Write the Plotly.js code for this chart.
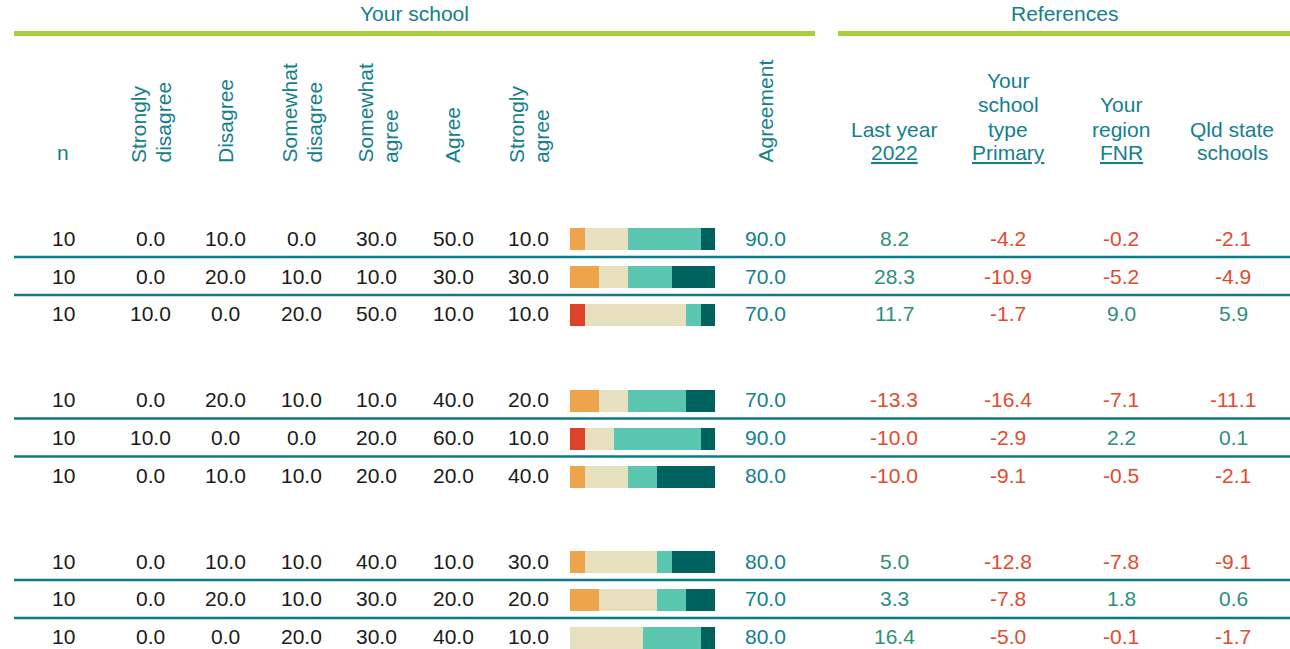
<!DOCTYPE html>
<html>
<head>
<meta charset="utf-8">
<script src="https://cdn.plot.ly/plotly-3.0.1.min.js"></script>
<style>
  html, body { margin: 0; padding: 0; background: #ffffff; }
  #chart { width: 1290px; height: 649px; }
</style>
</head>
<body>
<div id="chart"></div>
<script>
// ---------- DATA ----------
const nResp            = [10, 10, 10, 10, 10, 10, 10, 10, 10];
const stronglyDisagree = [0, 0, 10, 0, 10, 0, 0, 0, 0];
const disagree         = [10, 20, 0, 20, 0, 10, 10, 20, 0];
const somewhatDisagree = [0, 10, 20, 10, 0, 10, 10, 10, 20];
const somewhatAgree    = [30, 10, 50, 10, 20, 20, 40, 30, 30];
const agree            = [50, 30, 10, 40, 60, 20, 10, 20, 40];
const stronglyAgree    = [10, 30, 10, 20, 10, 40, 30, 20, 10];
const agreement        = [90, 70, 70, 70, 90, 80, 80, 70, 80];
const lastYear2022     = [8.2, 28.3, 11.7, -13.3, -10.0, -10.0, 5.0, 3.3, 16.4];
const schoolTypePrimary= [-4.2, -10.9, -1.7, -16.4, -2.9, -9.1, -12.8, -7.8, -5.0];
const regionFNR        = [-0.2, -5.2, 9.0, -7.1, 2.2, -0.5, -7.8, 1.8, -0.1];
const qldStateSchools  = [-2.1, -4.9, 5.9, -11.1, 0.1, -2.1, -9.1, 0.6, -1.7];
const groupOfRow       = [0, 0, 0, 1, 1, 1, 2, 2, 2];
const rowInGroup       = [0, 1, 2, 0, 1, 2, 0, 1, 2];

const segmentNames = ['Strongly disagree', 'Disagree', 'Somewhat disagree', 'Somewhat agree', 'Agree', 'Strongly agree'];
const columnHeaderLines = [['n'], ['Strongly', 'disagree'], ['Disagree'], ['Somewhat', 'disagree'], ['Somewhat', 'agree'], ['Agree'], ['Strongly', 'agree']];

// ---------- LAYOUT CONSTANTS ----------
const W = 1290, H = 649;
const FONT = 'Liberation Sans, Arial, sans-serif';
const FS = 21;
const TEAL = '#13808c';
const BLACK = '#1a1a1a';
const POS = '#2f8f78';
const NEG = '#e34a2d';
const GREEN = '#a9cd3c';
const RULE = '#0e7a88';
const segColors = ['#db4428', '#eea44b', '#e6e0bf', '#e6e0bf', '#5bc6b0', '#00625f'];

const GROUP_STEP = 4.26;
const ROW_PX = 37.9, ROW0_PX = 239.3;
const yRange = [(H - ROW0_PX) / ROW_PX, -ROW0_PX / ROW_PX];

const px = x => x / W;
const py = y => 1 - y / H;
const rowY = groupOfRow.map((g, i) => g * GROUP_STEP + rowInGroup[i]);

// ---------- TRACES ----------
const segData = [stronglyDisagree, disagree, somewhatDisagree, somewhatAgree, agree, stronglyAgree];
const traces = segData.map((vals, k) => ({
  type: 'bar',
  orientation: 'h',
  name: segmentNames[k],
  x: vals,
  y: rowY,
  width: 0.58,
  marker: { color: segColors[k], line: { width: 0 } },
  hoverinfo: 'skip',
  showlegend: false
}));

// ---------- ANNOTATIONS ----------
const ann = [];
function txt(x, y, text, color, opts) {
  ann.push(Object.assign({
    xref: 'paper', yref: 'y', x: x, y: y, text: text, showarrow: false,
    xanchor: 'center', yanchor: 'middle', yshift: 1.2,
    font: { family: FONT, size: FS, color: color }
  }, opts || {}));
}

// group titles
txt(px(414), py(15), 'Your school', TEAL, { yref: 'paper' });
txt(px(1064), py(15), 'References', TEAL, { yref: 'paper' });

// column headers
txt(px(63), py(161 - 7.3), 'n', TEAL, { yref: 'paper' });
const rotCenters = [null, [138, 163], [225], [289, 314], [365, 390], [452], [516, 541]];
for (let c = 1; c < columnHeaderLines.length; c++) {
  columnHeaderLines[c].forEach((line, j) => {
    txt(px(rotCenters[c][j]), py(165), line, TEAL, { yref: 'paper', textangle: -90, yanchor: 'bottom', yshift: 0 });
  });
}
txt(px(765), py(165), 'Agreement', TEAL, { yref: 'paper', textangle: -90, yanchor: 'bottom', yshift: 0 });

const refHeaders = [
  { x: 894, lines: [['Last year', 138], ['<u>2022</u>', 160.5]] },
  { x: 1008, lines: [['Your', 89], ['school', 113], ['type', 138], ['<u>Primary</u>', 161]] },
  { x: 1121, lines: [['Your', 113], ['region', 138], ['<u>FNR</u>', 161]] },
  { x: 1232, lines: [['Qld state', 138], ['schools', 161]] }
];
refHeaders.forEach(h => h.lines.forEach(([t, base]) => {
  txt(px(h.x), py(base - 7.3), t, TEAL, { yref: 'paper' });
}));

// row values
const valueCols = [
  [63, nResp, v => String(v)],
  [150, stronglyDisagree, v => v.toFixed(1)],
  [225, disagree, v => v.toFixed(1)],
  [301, somewhatDisagree, v => v.toFixed(1)],
  [377, somewhatAgree, v => v.toFixed(1)],
  [453, agree, v => v.toFixed(1)],
  [528, stronglyAgree, v => v.toFixed(1)]
];
rowY.forEach((y, i) => {
  valueCols.forEach(([x, arr, f]) => txt(px(x), y, f(arr[i]), BLACK));
  txt(px(765), y, agreement[i].toFixed(1), TEAL);
  [[894, lastYear2022], [1008, schoolTypePrimary], [1121, regionFNR], [1233, qldStateSchools]].forEach(([x, arr]) => {
    const v = arr[i];
    txt(px(x), y, v.toFixed(1), v >= 0 ? POS : NEG);
  });
});

// ---------- SHAPES ----------
const shapes = [
  { type: 'line', xref: 'paper', yref: 'paper', x0: px(14), x1: px(815), y0: py(33.5), y1: py(33.5), line: { color: GREEN, width: 5 } },
  { type: 'line', xref: 'paper', yref: 'paper', x0: px(838), x1: 1, y0: py(33.5), y1: py(33.5), line: { color: GREEN, width: 5 } }
];
[0, 1, 2].forEach(g => [0, 1].forEach(r => {
  const y = g * GROUP_STEP + r + 0.47;
  shapes.push({ type: 'line', xref: 'paper', yref: 'y', x0: px(14), x1: 1, y0: y, y1: y, line: { color: RULE, width: 2.5 } });
}));

const layout = {
  width: W, height: H,
  margin: { l: 0, r: 0, t: 0, b: 0, pad: 0 },
  paper_bgcolor: '#ffffff', plot_bgcolor: 'rgba(0,0,0,0)',
  barmode: 'stack',
  bargap: 0,
  showlegend: false,
  xaxis: { domain: [px(570), px(715)], range: [0, 100], visible: false, showgrid: false, zeroline: false, fixedrange: true },
  yaxis: { domain: [0, 1], range: yRange, visible: false, showgrid: false, zeroline: false, fixedrange: true },
  annotations: ann,
  shapes: shapes,
  font: { family: FONT, size: FS, color: BLACK }
};

Plotly.newPlot('chart', traces, layout, { displayModeBar: false, staticPlot: true });
</script>
</body>
</html>
